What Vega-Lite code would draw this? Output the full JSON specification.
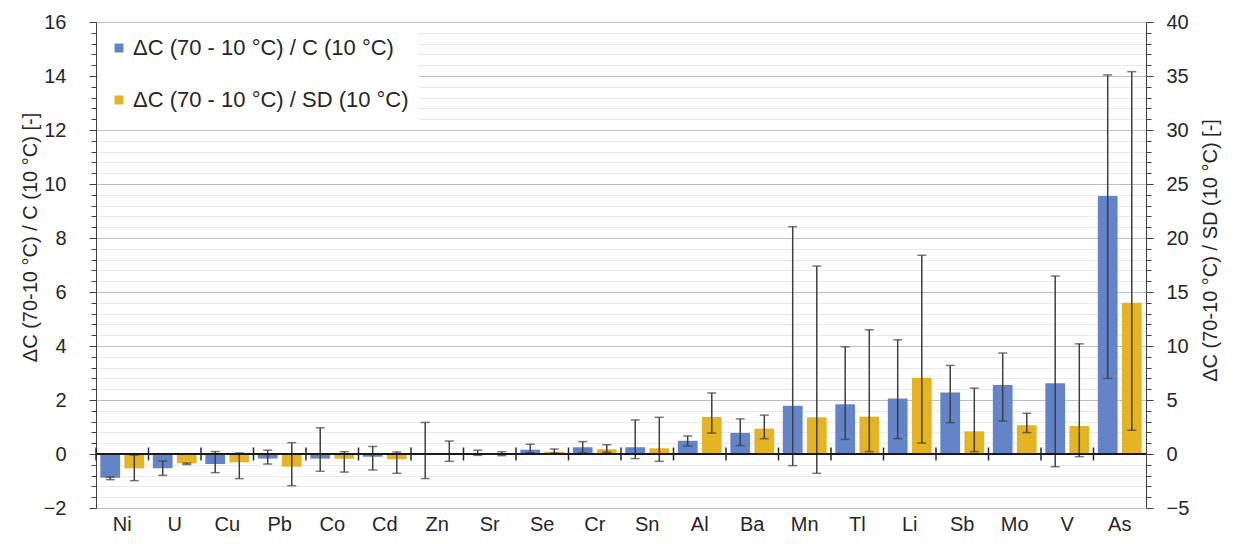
{
  "$schema": "https://vega.github.io/schema/vega-lite/v6.json",
  "width": 1050,
  "height": 486,
  "autosize": {"type": "none"},
  "padding": {"left": 96, "top": 22, "right": 90, "bottom": 36},
  "background": "white",
  "config": {
    "font": "Liberation Sans",
    "view": {"stroke": null},
    "axis": {"labelColor": "#262626", "titleColor": "#262626", "labelFont": "Liberation Sans", "titleFont": "Liberation Sans", "titleFontWeight": "normal"}
  },
  "datasets": {
    "c": [
      {"el": "Ni", "s": "ΔC (70 - 10 °C) / C (10 °C)", "v": -0.88, "lo": -0.95, "hi": -0.85},
      {"el": "U", "s": "ΔC (70 - 10 °C) / C (10 °C)", "v": -0.53, "lo": -0.79, "hi": -0.26},
      {"el": "Cu", "s": "ΔC (70 - 10 °C) / C (10 °C)", "v": -0.37, "lo": -0.69, "hi": 0.09},
      {"el": "Pb", "s": "ΔC (70 - 10 °C) / C (10 °C)", "v": -0.17, "lo": -0.37, "hi": 0.14},
      {"el": "Co", "s": "ΔC (70 - 10 °C) / C (10 °C)", "v": -0.17, "lo": -0.64, "hi": 0.97},
      {"el": "Cd", "s": "ΔC (70 - 10 °C) / C (10 °C)", "v": -0.1, "lo": -0.59, "hi": 0.28},
      {"el": "Zn", "s": "ΔC (70 - 10 °C) / C (10 °C)", "v": 0.0, "lo": -0.91, "hi": 1.17},
      {"el": "Sr", "s": "ΔC (70 - 10 °C) / C (10 °C)", "v": 0.03, "lo": -0.05, "hi": 0.14},
      {"el": "Se", "s": "ΔC (70 - 10 °C) / C (10 °C)", "v": 0.16, "lo": 0.05, "hi": 0.36},
      {"el": "Cr", "s": "ΔC (70 - 10 °C) / C (10 °C)", "v": 0.25, "lo": 0.05, "hi": 0.46},
      {"el": "Sn", "s": "ΔC (70 - 10 °C) / C (10 °C)", "v": 0.25, "lo": -0.17, "hi": 1.26},
      {"el": "Al", "s": "ΔC (70 - 10 °C) / C (10 °C)", "v": 0.49, "lo": 0.3, "hi": 0.67},
      {"el": "Ba", "s": "ΔC (70 - 10 °C) / C (10 °C)", "v": 0.78, "lo": 0.31, "hi": 1.3},
      {"el": "Mn", "s": "ΔC (70 - 10 °C) / C (10 °C)", "v": 1.79, "lo": -0.43, "hi": 8.42},
      {"el": "Tl", "s": "ΔC (70 - 10 °C) / C (10 °C)", "v": 1.84, "lo": 0.54, "hi": 3.97},
      {"el": "Li", "s": "ΔC (70 - 10 °C) / C (10 °C)", "v": 2.06, "lo": 0.57, "hi": 4.23},
      {"el": "Sb", "s": "ΔC (70 - 10 °C) / C (10 °C)", "v": 2.28, "lo": 1.16, "hi": 3.28},
      {"el": "Mo", "s": "ΔC (70 - 10 °C) / C (10 °C)", "v": 2.56, "lo": 1.22, "hi": 3.74},
      {"el": "V", "s": "ΔC (70 - 10 °C) / C (10 °C)", "v": 2.62, "lo": -0.47, "hi": 6.59},
      {"el": "As", "s": "ΔC (70 - 10 °C) / C (10 °C)", "v": 9.56, "lo": 2.8, "hi": 14.04}
    ],
    "sd": [
      {"el": "Ni", "s": "ΔC (70 - 10 °C) / SD (10 °C)", "v": -1.33, "lo": -2.47, "hi": -0.1},
      {"el": "U", "s": "ΔC (70 - 10 °C) / SD (10 °C)", "v": -0.86, "lo": -0.97, "hi": -0.84},
      {"el": "Cu", "s": "ΔC (70 - 10 °C) / SD (10 °C)", "v": -0.77, "lo": -2.28, "hi": 0.09},
      {"el": "Pb", "s": "ΔC (70 - 10 °C) / SD (10 °C)", "v": -1.17, "lo": -2.93, "hi": 1.05},
      {"el": "Co", "s": "ΔC (70 - 10 °C) / SD (10 °C)", "v": -0.43, "lo": -1.67, "hi": 0.21},
      {"el": "Cd", "s": "ΔC (70 - 10 °C) / SD (10 °C)", "v": -0.49, "lo": -1.79, "hi": 0.19},
      {"el": "Zn", "s": "ΔC (70 - 10 °C) / SD (10 °C)", "v": 0.0, "lo": -0.68, "hi": 1.2},
      {"el": "Sr", "s": "ΔC (70 - 10 °C) / SD (10 °C)", "v": 0.05, "lo": -0.15, "hi": 0.21},
      {"el": "Se", "s": "ΔC (70 - 10 °C) / SD (10 °C)", "v": 0.21, "lo": 0.09, "hi": 0.46},
      {"el": "Cr", "s": "ΔC (70 - 10 °C) / SD (10 °C)", "v": 0.43, "lo": 0.16, "hi": 0.86},
      {"el": "Sn", "s": "ΔC (70 - 10 °C) / SD (10 °C)", "v": 0.53, "lo": -0.68, "hi": 3.4},
      {"el": "Al", "s": "ΔC (70 - 10 °C) / SD (10 °C)", "v": 3.43, "lo": 1.94, "hi": 5.65},
      {"el": "Ba", "s": "ΔC (70 - 10 °C) / SD (10 °C)", "v": 2.35, "lo": 1.42, "hi": 3.6},
      {"el": "Mn", "s": "ΔC (70 - 10 °C) / SD (10 °C)", "v": 3.4, "lo": -1.79, "hi": 17.4},
      {"el": "Tl", "s": "ΔC (70 - 10 °C) / SD (10 °C)", "v": 3.46, "lo": 0.22, "hi": 11.5},
      {"el": "Li", "s": "ΔC (70 - 10 °C) / SD (10 °C)", "v": 7.07, "lo": 1.02, "hi": 18.4},
      {"el": "Sb", "s": "ΔC (70 - 10 °C) / SD (10 °C)", "v": 2.1, "lo": 0.22, "hi": 6.1},
      {"el": "Mo", "s": "ΔC (70 - 10 °C) / SD (10 °C)", "v": 2.66, "lo": 1.98, "hi": 3.77},
      {"el": "V", "s": "ΔC (70 - 10 °C) / SD (10 °C)", "v": 2.59, "lo": -0.25, "hi": 10.2},
      {"el": "As", "s": "ΔC (70 - 10 °C) / SD (10 °C)", "v": 14.0, "lo": 2.2, "hi": 35.4}
    ]
  },
  "layer": [
    {
      "data": {"name": "c"},
      "layer": [
        {
          "mark": {"type": "bar"},
          "encoding": {
            "x": {"field": "el", "type": "nominal", "sort": ["Ni","U","Cu","Pb","Co","Cd","Zn","Sr","Se","Cr","Sn","Al","Ba","Mn","Tl","Li","Sb","Mo","V","As"],
              "scale": {"domain": ["Ni","U","Cu","Pb","Co","Cd","Zn","Sr","Se","Cr","Sn","Al","Ba","Mn","Tl","Li","Sb","Mo","V","As"], "paddingInner": 0, "paddingOuter": 0},
              "axis": {"orient": "bottom", "title": null, "labelAngle": 0, "labelFontSize": 20, "ticks": false, "domain": false, "labelPadding": 6, "grid": false}},
            "xOffset": {"field": "s", "type": "nominal", "scale": {"domain": ["ΔC (70 - 10 °C) / C (10 °C)", "ΔC (70 - 10 °C) / SD (10 °C)"], "paddingInner": 0.18, "paddingOuter": 0.18}},
            "y": {"field": "v", "type": "quantitative", "scale": {"domain": [-2, 16], "nice": false, "zero": false},
              "axis": {"orient": "left", "values": [-2,0,2,4,6,8,10,12,14,16], "title": "ΔC (70-10 °C) / C (10 °C) [-]", "titleFontSize": 20, "titlePadding": 3, "titleY": 215, "labelFontSize": 20, "labelPadding": 23, "tickSize": 7, "tickColor": "#404040", "domainColor": "#404040", "grid": true, "gridColor": "#bdbdbd", "gridWidth": 1.2}},
            "color": {"field": "s", "type": "nominal", "scale": {"domain": ["ΔC (70 - 10 °C) / C (10 °C)", "ΔC (70 - 10 °C) / SD (10 °C)"], "range": ["#6384c8", "#e4b422"]},
              "legend": {"orient": "none", "legendX": 2, "legendY": 5, "title": null, "symbolType": "square", "symbolSize": 80, "symbolStrokeWidth": 0, "labelFontSize": 22, "labelFont": "Liberation Sans", "labelColor": "#262626", "labelOffset": 3, "rowPadding": 30, "padding": 10, "fillColor": "white", "labelLimit": 400}}
          }
        },
        {
          "mark": {"type": "rule", "color": "#404040", "strokeWidth": 1.5},
          "encoding": {
            "x": {"field": "el", "type": "nominal", "sort": ["Ni","U","Cu","Pb","Co","Cd","Zn","Sr","Se","Cr","Sn","Al","Ba","Mn","Tl","Li","Sb","Mo","V","As"]},
            "xOffset": {"field": "s", "type": "nominal"},
            "y": {"field": "lo", "type": "quantitative",
              "axis": {"orient": "left", "values": [-1.6,-1.2,-0.8,-0.4,0.4,0.8,1.2,1.6,2.4,2.8,3.2,3.6,4.4,4.8,5.2,5.6,6.4,6.8,7.2,7.6,8.4,8.8,9.2,9.6,10.4,10.8,11.2,11.6,12.4,12.8,13.2,13.6,14.4,14.8,15.2,15.6], "labels": false, "domain": false, "title": null, "tickSize": 5, "tickColor": "#404040", "grid": true, "gridColor": "#e9e9e9", "gridWidth": 1.2}},
            "y2": {"field": "hi"}
          }
        },
        {
          "mark": {"type": "tick", "color": "#404040", "thickness": 1.5, "size": 9},
          "encoding": {
            "x": {"field": "el", "type": "nominal", "sort": ["Ni","U","Cu","Pb","Co","Cd","Zn","Sr","Se","Cr","Sn","Al","Ba","Mn","Tl","Li","Sb","Mo","V","As"]},
            "xOffset": {"field": "s", "type": "nominal"},
            "y": {"field": "lo", "type": "quantitative", "axis": null}
          }
        },
        {
          "mark": {"type": "tick", "color": "#404040", "thickness": 1.5, "size": 9},
          "encoding": {
            "x": {"field": "el", "type": "nominal", "sort": ["Ni","U","Cu","Pb","Co","Cd","Zn","Sr","Se","Cr","Sn","Al","Ba","Mn","Tl","Li","Sb","Mo","V","As"]},
            "xOffset": {"field": "s", "type": "nominal"},
            "y": {"field": "hi", "type": "quantitative", "axis": null}
          }
        }
      ],
      "resolve": {"axis": {"y": "independent"}}
    },
    {
      "data": {"name": "sd"},
      "layer": [
        {
          "mark": {"type": "bar"},
          "encoding": {
            "x": {"field": "el", "type": "nominal", "sort": ["Ni","U","Cu","Pb","Co","Cd","Zn","Sr","Se","Cr","Sn","Al","Ba","Mn","Tl","Li","Sb","Mo","V","As"]},
            "xOffset": {"field": "s", "type": "nominal"},
            "y": {"field": "v", "type": "quantitative", "scale": {"domain": [-5, 40], "nice": false, "zero": false},
              "axis": {"orient": "right", "values": [-5,0,5,10,15,20,25,30,35,40], "title": "ΔC (70-10 °C) / SD (10 °C) [-]", "titleAngle": 270, "titleBaseline": "top", "titleFontSize": 20, "titlePadding": 12, "titleY": 228, "labelFontSize": 20, "labelPadding": 13, "tickSize": 7, "tickColor": "#404040", "domainColor": "#404040", "grid": false}},
            "color": {"field": "s", "type": "nominal"}
          }
        },
        {
          "mark": {"type": "rule", "color": "#404040", "strokeWidth": 1.5},
          "encoding": {
            "x": {"field": "el", "type": "nominal", "sort": ["Ni","U","Cu","Pb","Co","Cd","Zn","Sr","Se","Cr","Sn","Al","Ba","Mn","Tl","Li","Sb","Mo","V","As"]},
            "xOffset": {"field": "s", "type": "nominal"},
            "y": {"field": "lo", "type": "quantitative",
              "axis": {"orient": "right", "values": [-4,-3,-2,-1,1,2,3,4,6,7,8,9,11,12,13,14,16,17,18,19,21,22,23,24,26,27,28,29,31,32,33,34,36,37,38,39], "labels": false, "domain": false, "title": null, "tickSize": 5, "tickColor": "#404040", "grid": false}},
            "y2": {"field": "hi"}
          }
        },
        {
          "mark": {"type": "tick", "color": "#404040", "thickness": 1.5, "size": 9},
          "encoding": {
            "x": {"field": "el", "type": "nominal", "sort": ["Ni","U","Cu","Pb","Co","Cd","Zn","Sr","Se","Cr","Sn","Al","Ba","Mn","Tl","Li","Sb","Mo","V","As"]},
            "xOffset": {"field": "s", "type": "nominal"},
            "y": {"field": "lo", "type": "quantitative", "axis": null}
          }
        },
        {
          "mark": {"type": "tick", "color": "#404040", "thickness": 1.5, "size": 9},
          "encoding": {
            "x": {"field": "el", "type": "nominal", "sort": ["Ni","U","Cu","Pb","Co","Cd","Zn","Sr","Se","Cr","Sn","Al","Ba","Mn","Tl","Li","Sb","Mo","V","As"]},
            "xOffset": {"field": "s", "type": "nominal"},
            "y": {"field": "hi", "type": "quantitative", "axis": null}
          }
        },
        {
          "mark": {"type": "rule", "color": "#1a1a1a", "strokeWidth": 1.5},
          "encoding": {
            "y": {"datum": 0, "type": "quantitative", "axis": null}
          }
        },
        {
          "mark": {"type": "rule", "color": "#262626", "strokeWidth": 1.5},
          "encoding": {
            "x": {"field": "el", "type": "nominal", "bandPosition": 0, "sort": ["Ni","U","Cu","Pb","Co","Cd","Zn","Sr","Se","Cr","Sn","Al","Ba","Mn","Tl","Li","Sb","Mo","V","As"]},
            "y": {"datum": -0.6, "type": "quantitative", "axis": null},
            "y2": {"datum": 0.6}
          }
        }
      ],
      "resolve": {"axis": {"y": "independent"}}
    }
  ],
  "resolve": {"scale": {"y": "independent"}}
}
